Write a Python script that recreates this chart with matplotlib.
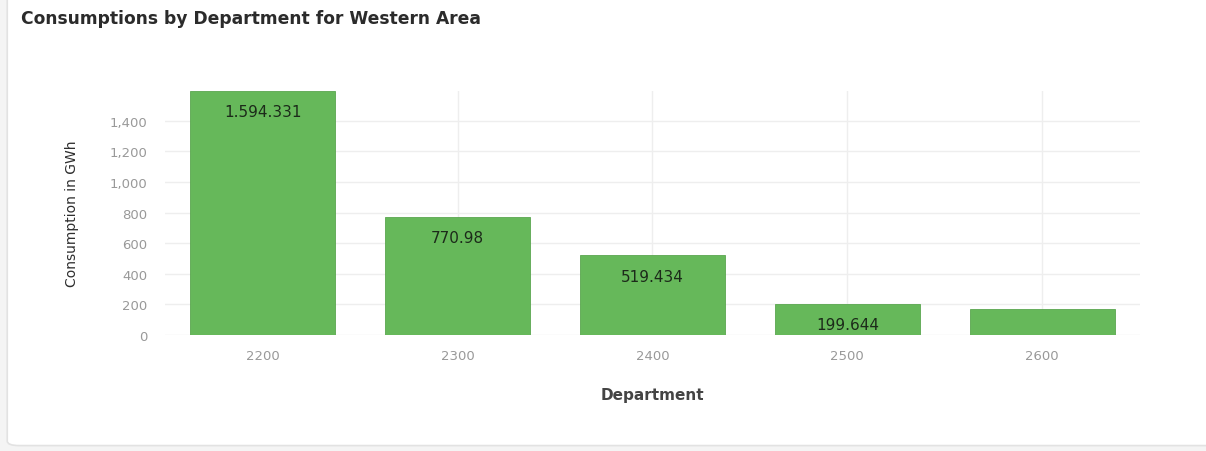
import matplotlib.pyplot as plt
from matplotlib.patches import FancyBboxPatch

departments = ['2200', '2300', '2400', '2500', '2600']
consumption = [1594.331, 770.98, 519.434, 199.644, 170.0]
value_labels = ['1.594.331', '770.98', '519.434', '199.644', '']
y_ticks = [0, 200, 400, 600, 800, 1000, 1200, 1400]

bar_color = '#66b85a'

fig = plt.figure(figsize=(12.06, 4.52), dpi=100)
fig.patch.set_facecolor('#f4f4f4')

# white card behind the chart
card = FancyBboxPatch((0.006, 0.012), 1.02, 1.02, boxstyle='round,pad=0,rounding_size=0.01',
                      transform=fig.transFigure, facecolor='white', edgecolor='#e2e2e2',
                      linewidth=1.2, zorder=-5)
fig.patches.append(card)

ax = fig.add_axes([0.137, 0.257, 0.808, 0.539])
ax.set_facecolor('none')

x = list(range(len(departments)))
ax.bar(x, consumption, width=0.745, color=bar_color, edgecolor='#5aa64f', linewidth=0.6, zorder=3)

for xi, val, lab in zip(x, consumption, value_labels):
    if lab:
        ax.text(xi, val - 135, lab, ha='center', va='center', fontsize=11, color='#1c2a1a', zorder=4)

ax.set_xlim(-0.5, 4.5)
ax.set_ylim(0, max(consumption))
ax.set_xticks(x)
ax.set_xticklabels(departments)
ax.set_yticks(y_ticks)
ax.set_yticklabels(['{:,}'.format(t) for t in y_ticks])

ax.tick_params(axis='both', length=0, labelsize=9.5, labelcolor='#999999')
ax.tick_params(axis='x', pad=10)
ax.tick_params(axis='y', pad=13)
ax.grid(True, color='#eeeeee', linewidth=1.0, zorder=0)
for side in ax.spines.values():
    side.set_visible(False)

ax.set_ylabel('Consumption in GWh', fontsize=10, color='#2e2e2e', labelpad=22)
ax.set_xlabel('Department', fontsize=11, fontweight='bold', color='#444444', labelpad=18)

fig.text(0.017, 0.958, 'Consumptions by Department for Western Area', fontsize=12.3,
         fontweight='bold', color='#2b2b2b', ha='left', va='center')

plt.savefig('out.png', dpi=100, facecolor=fig.get_facecolor())
plt.close()
